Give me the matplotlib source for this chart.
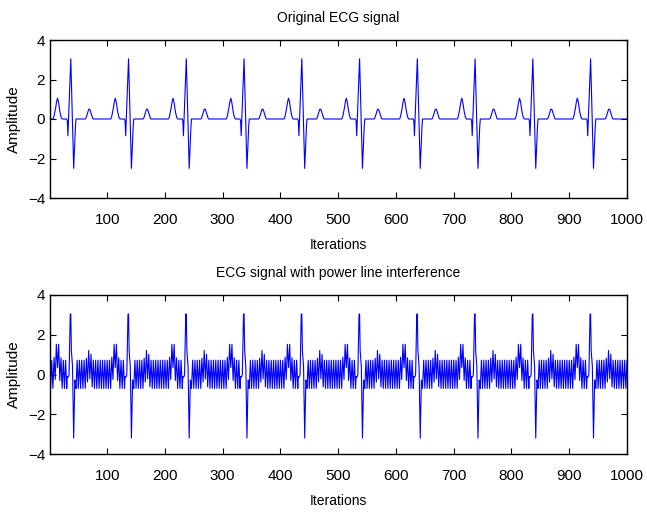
import numpy as np
import matplotlib
matplotlib.use("Agg")
import matplotlib.pyplot as plt

# ---- data ----
# one heartbeat (100 samples); the record repeats it 10 times
beat = [0, 0, 0, 0, 0, 0, 0.05, 0.15, 0.3, 0.45,
        0.6, 0.8, 0.95, 1.05, 0.95, 0.8, 0.6, 0.4, 0.25, 0.12,
        0.05, 0, 0, 0, 0, 0, 0, 0, 0, 0,
        -0.1, -0.85, -0.1, 0.7, 1.5, 2.3, 3.05, 1.9, 0.8, -0.3,
        -1.4, -2.5, -1.8, -1.0, -0.4, 0, 0, 0, 0, 0,
        0, 0, 0, 0, 0, 0, 0, 0, 0, 0,
        0, 0, 0.03, 0.1, 0.2, 0.32, 0.42, 0.49, 0.5, 0.48,
        0.4, 0.3, 0.18, 0.08, 0.02, 0, 0, 0, 0, 0,
        0, 0, 0, 0, 0, 0, 0, 0, 0, 0,
        0, 0, 0, 0, 0, 0, 0, 0, 0, 0]
n_beats = 10

# power-line interference pattern (4 samples, repeats)
interference = [0.0, -0.7, 0.0, 0.72]

x_ticks = [100, 200, 300, 400, 500, 600, 700, 800, 900, 1000]
y_ticks = [-4, -2, 0, 2, 4]
titles = ["Original ECG signal", "ECG signal with power line interference"]
xlabel = "Iterations"
ylabel = "Amplitude"

# ---- build signals ----
ecg = np.tile(np.array(beat, dtype=float), n_beats)
n = len(ecg)
noise = np.resize(np.array(interference, dtype=float), n)
noisy = ecg + noise
x = np.arange(1, n + 1)

plt.rcParams['font.family'] = ['Liberation Sans', 'DejaVu Sans']

fig = plt.figure(figsize=(6.47, 5.12), dpi=100)
W, H = 647, 512
boxes = [(50, 40, 627, 198), (50, 295, 627, 454)]

for (l, t, r, b), sig, title in zip(boxes, [ecg, noisy], titles):
    ax = fig.add_axes([l / W, (H - b) / H, (r - l) / W, (b - t) / H])
    ax.plot(x, sig, color=(0, 0, 1), lw=0.8)
    ax.set_xlim(1, 1000)
    ax.set_ylim(-4, 4)
    ax.set_xticks(x_ticks)
    ax.set_yticks(y_ticks)
    ax.tick_params(direction='in', top=True, right=True, length=4, width=0.8,
                   labelsize=11)
    ax.tick_params(axis='x', pad=10.5)
    ax.tick_params(axis='y', pad=3.5)
    for s in ax.spines.values():
        s.set_linewidth(1.0)
    ax.set_title(title, fontsize=10, pad=13)
    ax.set_xlabel(xlabel, fontsize=10, labelpad=8.5)
    ax.set_ylabel(ylabel, fontsize=11, labelpad=5)

fig.savefig("out.png", dpi=100)
